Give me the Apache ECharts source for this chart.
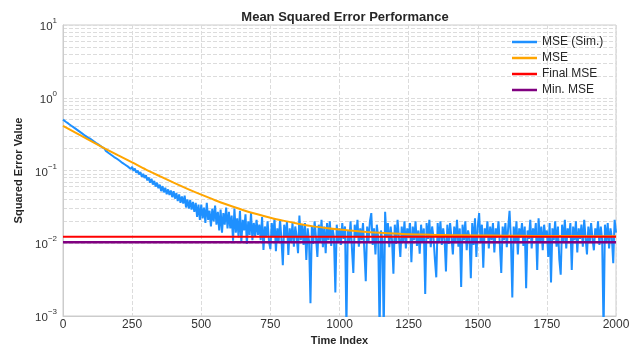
<!DOCTYPE html>
<html>
<head>
<meta charset="utf-8">
<script src="https://cdn.jsdelivr.net/npm/echarts@6/dist/echarts.min.js"></script>
<style>html,body{margin:0;padding:0;background:#fff;}#chart{width:639px;height:344px;}</style>
</head>
<body>
<div id="chart"></div>
<script>
// ---- data ----
const simStep = 5; // time-index spacing of the sampled simulated MSE values
const simValues = [
0.500,0.487,0.468,0.457,0.440,0.430,0.413,0.404,0.388,0.380,0.364,0.357,0.342,0.336,0.321,0.315,0.301,0.297,0.283,0.279,
0.271,0.257,0.254,0.242,0.239,0.227,0.225,0.213,0.212,0.199,0.200,0.186,0.188,0.174,0.177,0.163,0.167,0.153,0.158,0.145,
0.149,0.136,0.141,0.127,0.133,0.120,0.125,0.113,0.120,0.105,0.112,0.099,0.106,0.093,0.100,0.088,0.095,0.082,0.090,0.079,
0.086,0.073,0.080,0.068,0.077,0.064,0.072,0.060,0.068,0.057,0.064,0.052,0.061,0.050,0.058,0.047,0.055,0.046,0.053,0.043,
0.052,0.041,0.049,0.038,0.047,0.036,0.044,0.035,0.045,0.031,0.040,0.030,0.039,0.029,0.037,0.027,0.036,0.023,0.034,0.021,
0.034,0.022,0.031,0.019,0.036,0.021,0.028,0.017,0.030,0.020,0.033,0.018,0.027,0.015,0.029,0.014,0.026,0.018,0.031,0.016,
0.027,0.016,0.024,0.0108,0.030,0.014,0.022,0.012,0.028,0.0105,0.021,0.015,0.025,0.0098,0.020,0.013,0.026,0.011,0.019,0.0125,
0.021,0.013,0.018,0.011,0.023,0.0081,0.017,0.012,0.020,0.0105,0.0083,0.019,0.012,0.022,0.0078,0.016,0.0105,0.021,0.0115,0.0050,
0.018,0.012,0.020,0.0069,0.016,0.0105,0.019,0.0090,0.017,0.0125,0.0073,0.024,0.011,0.018,0.0095,0.019,0.0059,0.016,0.0105,0.0015,
0.017,0.0098,0.020,0.012,0.0065,0.018,0.0105,0.021,0.0088,0.017,0.0073,0.019,0.011,0.020,0.0092,0.016,0.012,0.0021,0.018,0.0100,
0.016,0.0095,0.019,0.0115,0.017,0.0007,0.015,0.0105,0.020,0.0085,0.0039,0.018,0.012,0.021,0.0090,0.016,0.011,0.019,0.0078,0.0030,
0.017,0.0105,0.020,0.026,0.0095,0.016,0.0070,0.018,0.012,0.0006,0.015,0.011,0.0006,0.027,0.0120,0.019,0.0088,0.017,0.011,0.0038,
0.018,0.0098,0.021,0.012,0.0065,0.017,0.0105,0.020,0.0085,0.016,0.012,0.019,0.0055,0.017,0.011,0.020,0.0092,0.015,0.0072,0.018,
0.0105,0.016,0.0020,0.019,0.0115,0.021,0.0088,0.017,0.012,0.0060,0.0034,0.019,0.0105,0.020,0.0095,0.016,0.0115,0.0041,0.018,0.0098,
0.019,0.012,0.0070,0.017,0.0105,0.021,0.0090,0.016,0.0025,0.018,0.011,0.020,0.0080,0.015,0.012,0.0033,0.019,0.0095,0.022,0.0065,
0.017,0.026,0.0105,0.018,0.0046,0.016,0.012,0.020,0.0085,0.017,0.011,0.019,0.0075,0.016,0.012,0.020,0.0095,0.0039,0.017,0.011,
0.019,0.0088,0.016,0.028,0.011,0.0018,0.017,0.0105,0.020,0.0070,0.016,0.012,0.019,0.0092,0.017,0.0024,0.015,0.0115,0.021,0.0085,
0.016,0.012,0.019,0.0043,0.022,0.0105,0.017,0.0080,0.018,0.012,0.015,0.0065,0.019,0.0029,0.016,0.0110,0.020,0.0090,0.017,0.0060,
0.0037,0.018,0.0105,0.021,0.0085,0.016,0.012,0.019,0.0043,0.017,0.011,0.020,0.0075,0.016,0.0115,0.018,0.0090,0.021,0.012,0.0070,
0.017,0.0100,0.019,0.0115,0.0080,0.016,0.012,0.020,0.0095,0.017,0.0110,0.0006,0.018,0.0105,0.019,0.0085,0.016,0.012,0.0053,0.021,
0.014
];
const theoryIndex = [0,50,100,150,200,250,300,350,400,450,500,550,600,650,700,750,800,850,900,950,1000,1050,1100,1150,1200,1250,1300,1350,1400,1500,1600,1700,1800,1900,2000];
const theoryValues = [0.41,0.323,0.255,0.202,0.161,0.129,0.103,0.0835,0.068,0.0559,0.0465,0.039,0.0333,0.0287,0.0252,0.0224,0.0203,0.0186,0.0172,0.0162,0.0154,0.0148,0.0143,0.0139,0.0136,0.0133,0.0132,0.0130,0.0129,0.0128,0.0127,0.0126,0.0126,0.0125,0.0125];
const finalMSE = 0.0123;
const minMSE = 0.0103;
const xRange = [0, 2000];
const xTickStep = 250;
const yRange = [0.001, 10];
const yMinorGrid = [0.002,0.003,0.004,0.005,0.006,0.007,0.008,0.009,
  0.02,0.03,0.04,0.05,0.06,0.07,0.08,0.09,
  0.2,0.3,0.4,0.5,0.6,0.7,0.8,0.9,
  2,3,4,5,6,7,8,9];
const seriesNames = ['MSE (Sim.)', 'MSE', 'Final MSE', 'Min. MSE'];

// ---- chart ----
const simData = simValues.map((v, i) => [i * simStep, v]);
const theoryData = theoryIndex.map((x, i) => [x, theoryValues[i]]);
const font = 'Liberation Sans, Arial, sans-serif';
const gridColor = '#dcdcdc';

const chart = echarts.init(document.getElementById('chart'), null, {renderer: 'canvas'});
chart.setOption({
  animation: false,
  backgroundColor: '#ffffff',
  textStyle: {fontFamily: font},
  title: {
    text: 'Mean Squared Error Performance',
    left: 340, top: 6, textAlign: 'center',
    textStyle: {fontSize: 13, fontWeight: 'bold', color: '#262626', fontFamily: font}
  },
  grid: {left: 63, right: 23, top: 25, bottom: 28, containLabel: false, outerBoundsMode: 'none',
    show: true, borderColor: '#cccccc', borderWidth: 1, backgroundColor: 'transparent'},
  legend: {
    data: seriesNames.map(n => ({name: n, icon: 'rect'})),
    orient: 'vertical', left: 507, top: 30, z: 20,
    itemWidth: 25, itemHeight: 2.5, itemGap: 2,
    textStyle: {fontSize: 12, color: '#262626', lineHeight: 14, fontFamily: font}
  },
  xAxis: {
    type: 'value', min: xRange[0], max: xRange[1], interval: xTickStep,
    name: 'Time Index', nameLocation: 'middle', nameGap: 16,
    nameTextStyle: {fontSize: 11, fontWeight: 'bold', color: '#262626', fontFamily: font},
    axisLine: {show: true, lineStyle: {color: '#cccccc'}},
    axisTick: {show: false},
    axisLabel: {fontSize: 12, color: '#333333', margin: 3, fontFamily: font,
      formatter: function (v) { return String(v); }},
    splitLine: {show: true, lineStyle: {color: gridColor, type: [4, 2], width: 1}}
  },
  yAxis: {
    type: 'log', logBase: 10, min: yRange[0], max: yRange[1],
    name: 'Squared Error Value', nameLocation: 'middle', nameGap: 32, nameRotate: 90,
    nameTextStyle: {fontSize: 11, fontWeight: 'bold', color: '#262626', fontFamily: font},
    axisLine: {show: true, lineStyle: {color: '#cccccc'}},
    axisTick: {show: false},
    axisLabel: {
      margin: 6,
      formatter: function (v) {
        const e = Math.round(Math.log10(v));
        return '{b|10}{s|' + (e < 0 ? '\u2212' + (-e) : e) + '}';
      },
      rich: {
        b: {fontSize: 11.5, color: '#333333', lineHeight: 13, padding: [4, 0, 0, 0], fontFamily: font},
        s: {fontSize: 8, color: '#333333', lineHeight: 9, padding: [0, 0, 8, 0], fontFamily: font}
      }
    },
    splitLine: {show: true, lineStyle: {color: gridColor, type: [4, 2], width: 1}}
  },
  series: [
    {
      name: '_minor', type: 'line', data: [], silent: true, z: 0,
      markLine: {
        silent: true, z: 0, symbol: ['none', 'none'], label: {show: false},
        lineStyle: {color: gridColor, type: [4, 2], width: 1},
        data: yMinorGrid.map(v => ({yAxis: v}))
      }
    },
    {
      name: seriesNames[0], type: 'line', data: simData, showSymbol: false, symbol: 'none', z: 3,
      lineStyle: {color: '#1E90FF', width: 2}, itemStyle: {color: '#1E90FF'}
    },
    {
      name: seriesNames[1], type: 'line', data: theoryData, showSymbol: false, symbol: 'none', smooth: 0.3, z: 4,
      lineStyle: {color: '#FFA500', width: 2}, itemStyle: {color: '#FFA500'}
    },
    {
      name: seriesNames[2], type: 'line', data: [[xRange[0], finalMSE], [xRange[1], finalMSE]], showSymbol: false, symbol: 'none', z: 5,
      lineStyle: {color: '#FF0000', width: 2}, itemStyle: {color: '#FF0000'}
    },
    {
      name: seriesNames[3], type: 'line', data: [[xRange[0], minMSE], [xRange[1], minMSE]], showSymbol: false, symbol: 'none', z: 5,
      lineStyle: {color: '#800080', width: 2.5}, itemStyle: {color: '#800080'}
    }
  ]
});
</script>
</body>
</html>
